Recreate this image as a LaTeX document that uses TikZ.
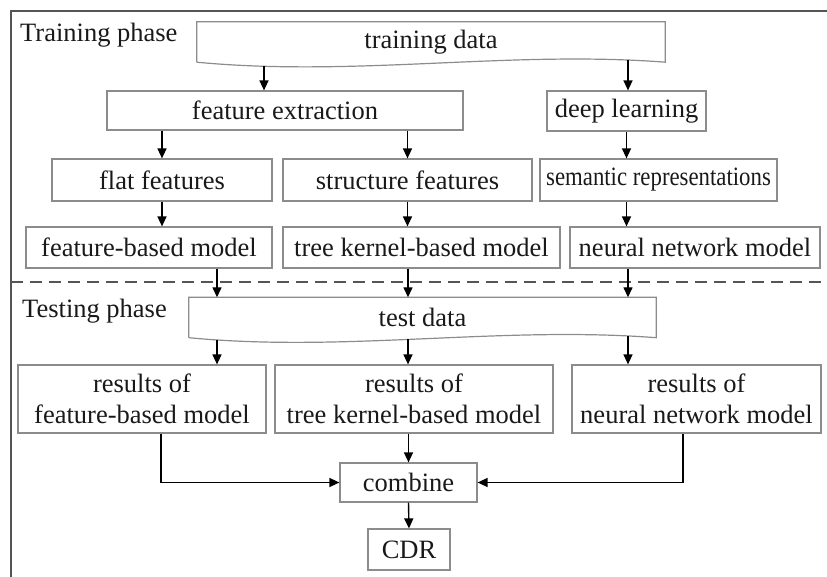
\documentclass[tikz,border=0pt]{standalone}
\usepackage{fontspec}
\setmainfont{Liberation Serif}
\usetikzlibrary{arrows.meta}
\definecolor{boxgray}{HTML}{8C8C8C}
\definecolor{framegray}{HTML}{555555}

\begin{document}
\begin{tikzpicture}[x=1pt,y=-1pt,
                txt/.style={inner sep=0pt,font=\fontsize{26.5}{31}\selectfont,text=black!90},
                box/.style={txt,draw=boxgray,line width=1.2pt,align=center},
                docline/.style={draw=boxgray,line width=1.2pt},
                arr/.style={line width=1.4pt,-{Triangle[length=10pt,width=9pt]}},
                frame/.style={draw=framegray,line width=2.2pt},
                phase/.style={draw=framegray,line width=1.8pt,dash pattern=on 12pt off 7pt}]
                \useasboundingbox (0,0) rectangle (827,577);

                \draw[frame] (11,577) -- (11,11) -- (827,11);
                \draw[phase] (11,282) -- (827,282);

                \node[txt,anchor=base west] (trainlabel) at (20,42) {Training phase};
                \node[txt,anchor=base west] (testlabel) at (22,317) {Testing phase};

                \node[txt,minimum width=468pt,minimum height=40pt] (train) at (431,42) {training data};
                \draw[docline] (train.south west) -- (train.north west) -- (train.north east) -- (train.south east)
                    .. controls +(-155,-12) and +(158,15) .. (train.south west);

                \node[box,minimum width=356pt,minimum height=39pt] (feat) at (285,110.5) {feature extraction};
                \node[box,minimum width=159pt,minimum height=40pt] (deep) at (626.5,111) {deep learning};

                \node[box,minimum width=220pt,minimum height=42pt] (flat) at (162,180) {flat features};
                \node[box,minimum width=249pt,minimum height=42pt] (struct) at (407.5,180) {structure features};
                \node[box,minimum width=237pt,minimum height=42pt] (sem) at (658.5,180) {\scalebox{0.86}[1]{semantic representations}};

                \node[box,minimum width=246pt,minimum height=41pt] (fbm) at (149,247.5) {feature-based model};
                \node[box,minimum width=277pt,minimum height=41pt] (tkm) at (421.5,247.5) {tree kernel-based model};
                \node[box,minimum width=250pt,minimum height=41pt] (nnm) at (695,247.5) {neural network model};

                \node[txt,minimum width=467pt,minimum height=40pt] (test) at (422.5,317.5) {test data};
                \draw[docline] (test.south west) -- (test.north west) -- (test.north east) -- (test.south east)
                    .. controls +(-156,-12) and +(156,15) .. (test.south west);

                \node[box,minimum width=248pt,minimum height=68pt] (r1) at (142,399) {results of\\feature-based model};
                \node[box,minimum width=278pt,minimum height=68pt] (r2) at (414,399) {results of\\tree kernel-based model};
                \node[box,minimum width=249pt,minimum height=68pt] (r3) at (696.5,399) {results of\\neural network model};

                \node[box,minimum width=137pt,minimum height=39pt] (comb) at (408.5,482.5) {combine};
                \node[box,minimum width=82pt,minimum height=41pt] (cdr) at (409,549.5) {CDR};

                \coordinate (T1) at (264,66);
                \coordinate (T2) at (628,60);
                \coordinate (S1) at (217,340);
                \coordinate (S2) at (408,339);
                \coordinate (S3) at (628,336);

                \draw[arr] (T1) -- (T1 |- feat.north);
                \draw[arr] (T2) -- (T2 |- deep.north);
                \draw[arr] (feat.south -| flat.north) -- (flat.north);
                \draw[arr] (feat.south -| struct.north) -- (struct.north);
                \draw[arr] (deep.south) -- (deep.south |- sem.north);
                \draw[arr] (flat.south) -- (flat.south |- fbm.north);
                \draw[arr] (struct.south) -- (struct.south |- tkm.north);
                \draw[arr] (deep.south |- sem.south) -- (deep.south |- nnm.north);

                \draw[arr] (S1 |- fbm.south) -- (S1 |- test.north);
                \draw[arr] (S2 |- tkm.south) -- (S2 |- test.north);
                \draw[arr] (S3 |- nnm.south) -- (S3 |- test.north);
                \draw[arr] (S1) -- (S1 |- r1.north);
                \draw[arr] (S2) -- (S2 |- r2.north);
                \draw[arr] (S3) -- (S3 |- r3.north);

                \draw[arr] ([xshift=19pt]r1.south) |- (comb.west);
                \draw[arr] ([xshift=-13.5pt]r3.south) |- (comb.east);
                \draw[arr] (comb.north |- r2.south) -- (comb.north);
                \draw[arr] (comb.south) -- (cdr.north);
            \end{tikzpicture}
\end{document}
